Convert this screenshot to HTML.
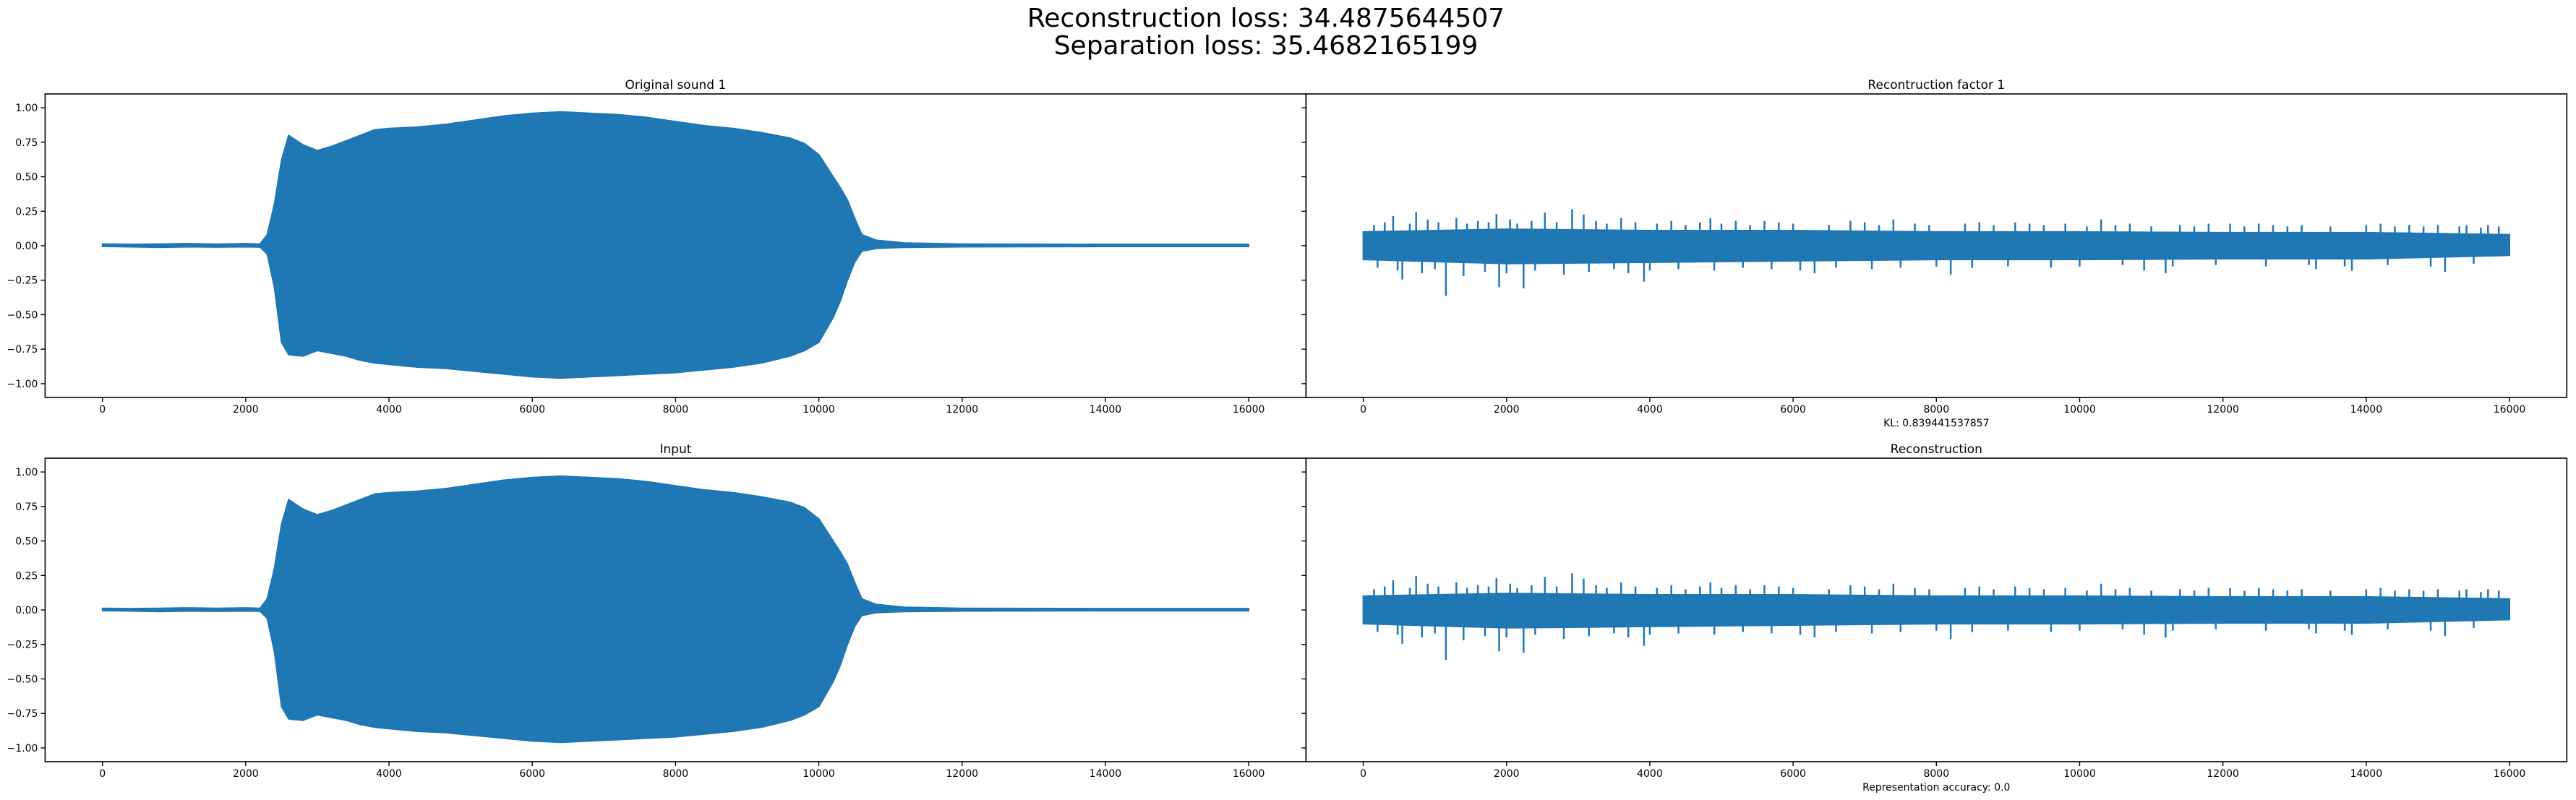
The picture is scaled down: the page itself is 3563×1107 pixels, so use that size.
<!DOCTYPE html>
<html><head><meta charset="utf-8">
<style>
html,body{margin:0;padding:0;background:#fff;}
svg{display:block;font-family:"DejaVu Sans","Liberation Sans",sans-serif;}
</style></head>
<body>
<svg id="fig" width="3563" height="1107" viewBox="0 0 3563 1107" xmlns="http://www.w3.org/2000/svg">
<rect width="3563" height="1107" fill="#fff"/>
<text x="1751" y="37" font-size="36" text-anchor="middle">Reconstruction loss: 34.4875644507</text>
<text x="1751" y="75" font-size="36" text-anchor="middle">Separation loss: 35.4682165199</text>
<g id="plots"></g>
</svg>
<script>
// ---- data ----
const xTicks = [0,2000,4000,6000,8000,10000,12000,14000,16000];
const yTicks = [-1.00,-0.75,-0.50,-0.25,0.00,0.25,0.50,0.75,1.00];
const yTickLabels = ["\u22121.00","\u22120.75","\u22120.50","\u22120.25","0.00","0.25","0.50","0.75","1.00"];
// original sound envelope (sample index, upper, lower)
const envX     = [0,400,800,1200,1600,2000,2200,2300,2400,2500,2600,2800,3000,3200,3400,3600,3800,4000,4400,4800,5200,5600,6000,6400,6800,7200,7600,8000,8400,8800,9200,9600,9800,10000,10200,10300,10400,10500,10600,10800,11200,12000,14000,16000];
const envUpper = [0.012,0.01,0.012,0.015,0.012,0.015,0.012,0.08,0.3,0.62,0.8,0.73,0.69,0.72,0.76,0.8,0.84,0.85,0.86,0.88,0.91,0.94,0.96,0.97,0.96,0.95,0.93,0.9,0.87,0.85,0.82,0.78,0.74,0.66,0.5,0.42,0.33,0.2,0.08,0.04,0.02,0.012,0.01,0.01];
const envLower = [-0.005,-0.008,-0.012,-0.008,-0.01,-0.008,-0.01,-0.06,-0.3,-0.7,-0.79,-0.8,-0.76,-0.78,-0.8,-0.83,-0.85,-0.86,-0.88,-0.89,-0.91,-0.93,-0.95,-0.96,-0.95,-0.94,-0.93,-0.92,-0.9,-0.88,-0.85,-0.8,-0.76,-0.7,-0.52,-0.4,-0.25,-0.12,-0.04,-0.02,-0.012,-0.008,-0.006,-0.006];
// reconstruction noise band
const bandX     = [0,2000,4000,6000,8000,10000,12000,14000,16000];
const bandUpper = [0.1,0.12,0.11,0.11,0.1,0.1,0.095,0.095,0.08];
const bandLower = [-0.1,-0.13,-0.12,-0.11,-0.1,-0.1,-0.095,-0.095,-0.07];
// spikes (sample, value)
const spikeX = [417,738,1859,2536,2915,3077,4846,545,1154,1897,2238,3919,5600,6300,7400,8200,9100,10300,11200,12500,13300,14200,15100,15700,6800,8600,10900,12100,13800,15400,
 150,300,650,900,1050,1300,1450,1600,1750,2050,2150,2350,2700,3250,3400,3600,3800,4100,4300,4500,4700,5000,5200,5400,5800,6000,6500,7000,7200,7700,7900,8400,8800,9300,9500,9800,10100,10500,10700,11000,11400,11600,11800,12300,12700,12900,13100,13500,14000,14400,14600,14800,15000,15300,15600,15850,
 200,480,820,1000,1400,1700,2000,2400,2800,3150,3500,3700,4000,4400,4900,5300,5700,6100,6600,7100,7500,8000,8500,9000,9600,10000,10600,11300,11900,12600,13200,13700,14300,14900,15500];
const spikeY = [0.215,0.245,0.23,0.24,0.265,0.227,0.2,-0.245,-0.363,-0.3,-0.31,-0.26,0.18,-0.2,0.19,-0.21,0.17,0.19,-0.2,0.16,-0.17,0.16,-0.19,0.15,0.18,0.17,-0.18,0.16,-0.18,0.15,
 0.15,0.17,0.16,0.19,0.17,0.2,0.16,0.18,0.17,0.19,0.16,0.18,0.17,0.18,0.16,0.2,0.17,0.16,0.18,0.15,0.17,0.16,0.18,0.15,0.17,0.16,0.15,0.17,0.15,0.16,0.15,0.16,0.15,0.16,0.15,0.16,0.14,0.15,0.16,0.14,0.15,0.14,0.16,0.14,0.15,0.14,0.15,0.14,0.15,0.14,0.15,0.14,0.15,0.14,0.13,0.14,
 -0.16,-0.18,-0.2,-0.17,-0.22,-0.19,-0.2,-0.18,-0.21,-0.19,-0.17,-0.2,-0.18,-0.17,-0.18,-0.16,-0.17,-0.18,-0.16,-0.17,-0.16,-0.15,-0.16,-0.15,-0.16,-0.15,-0.14,-0.15,-0.14,-0.15,-0.14,-0.15,-0.14,-0.15,-0.13];

const NS = "http://www.w3.org/2000/svg";
const root = document.getElementById("plots");
function mk(tag, attrs, parent){ const e=document.createElementNS(NS,tag); for(const k in attrs) e.setAttribute(k,attrs[k]); (parent||root).appendChild(e); return e; }

const BLUE = "#1f77b4";
const panels = [
 {name:"original-sound-1", title:"Original sound 1", L:62.4, T:130, yLabels:true, kind:"env", xlabel:null},
 {name:"reconstruction-factor-1", title:"Recontruction factor 1", L:1806.3, T:130, yLabels:false, kind:"noise", xlabel:"KL: 0.839441537857"},
 {name:"input", title:"Input", L:62.4, T:634, yLabels:true, kind:"env", xlabel:null},
 {name:"reconstruction", title:"Reconstruction", L:1806.3, T:634, yLabels:false, kind:"noise", xlabel:"Representation accuracy: 0.0"}
];
const W = 1744, H = 420, XMIN=-800, XMAX=16800, YMIN=-1.1, YMAX=1.1;

panels.forEach(p=>{
  const g = mk("g",{});
  
  
  const sx = v => p.L + (v-XMIN)/(XMAX-XMIN)*W;
  const sy = v => p.T + (YMAX-v)/(YMAX-YMIN)*H;
  if(p.kind==="env"){
    let d = "M"+envX.map((x,i)=>sx(x).toFixed(1)+","+sy(envUpper[i]).toFixed(1)).join("L");
    for(let i=envX.length-1;i>=0;i--) d += "L"+sx(envX[i]).toFixed(1)+","+sy(envLower[i]).toFixed(1);
    d += "Z";
    const pa = mk("path",{d:d, fill:BLUE, stroke:BLUE, "stroke-width":"2", "stroke-linejoin":"round"}, g);
    
    
  } else {
    let d = "M"+bandX.map((x,i)=>sx(x).toFixed(1)+","+sy(bandUpper[i]).toFixed(1)).join("L");
    for(let i=bandX.length-1;i>=0;i--) d += "L"+sx(bandX[i]).toFixed(1)+","+sy(bandLower[i]).toFixed(1);
    d += "Z";
    const pa = mk("path",{d:d, fill:BLUE, stroke:BLUE, "stroke-width":"2"}, g);
    
    
    spikeX.forEach((x,i)=>{
      const ln = mk("line",{x1:sx(x), x2:sx(x), y1:sy(0), y2:sy(spikeY[i]), stroke:BLUE, "stroke-width":"2.5"}, g);
      
      
    });
  }
  const fr = mk("rect",{x:p.L, y:p.T, width:W, height:H, fill:"none", stroke:"#000", "stroke-width":"1.6"}, g);
  
  
  xTicks.forEach(t=>{
    const x = sx(t);
    mk("line",{x1:x,x2:x,y1:p.T+H,y2:p.T+H+6,stroke:"#000","stroke-width":"1.4"}, g);
    const tx = mk("text",{x:x, y:p.T+H+21, "font-size":"14", "text-anchor":"middle"}, g);
    tx.textContent = String(t);
    
    
  });
  yTicks.forEach((t,i)=>{
    const y = sy(t);
    mk("line",{x1:p.L-6,x2:p.L,y1:y,y2:y,stroke:"#000","stroke-width":"1.4"}, g);
    if(p.yLabels){
      const tx = mk("text",{x:p.L-10, y:y+5, "font-size":"14", "text-anchor":"end"}, g);
      tx.textContent = yTickLabels[i];
      
      
    }
  });
  const tt = mk("text",{x:p.L+W/2, y:p.T-7, "font-size":"17", "text-anchor":"middle"}, g);
  tt.textContent = p.title;
  
  
  if(p.xlabel){
    const xl = mk("text",{x:p.L+W/2, y:p.T+H+40, "font-size":"14", "text-anchor":"middle"}, g);
    xl.textContent = p.xlabel;
    
    
  }
});
</script>
</body></html>
